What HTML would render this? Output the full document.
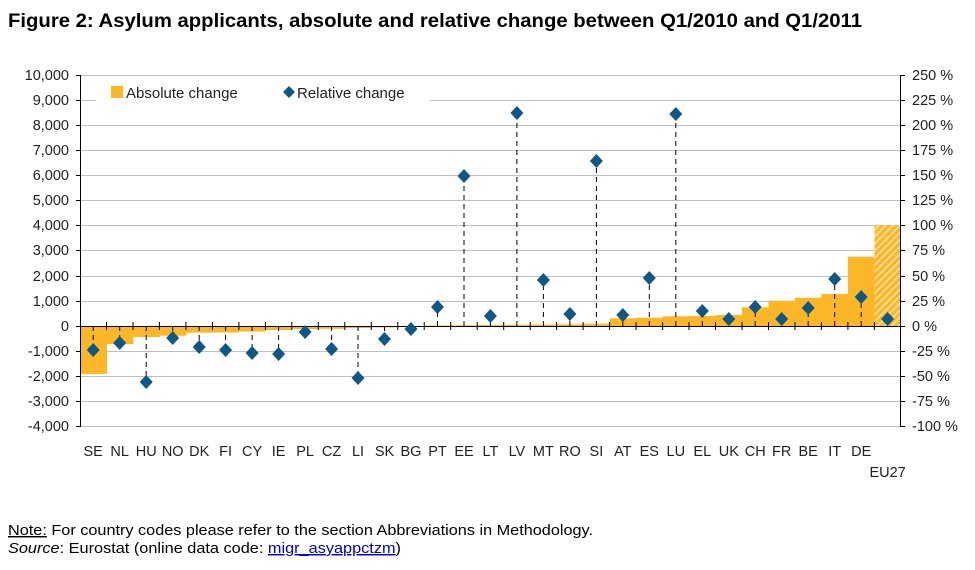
<!DOCTYPE html>
<html><head><meta charset="utf-8"><style>
body{margin:0;background:#fff;}
svg{display:block;font-family:"Liberation Sans",Arial,sans-serif;}
</style></head><body>
<svg width="975" height="570" viewBox="0 0 975 570" xmlns="http://www.w3.org/2000/svg">
<defs>
<pattern id="hatch" width="5" height="5" patternUnits="userSpaceOnUse" patternTransform="rotate(45)">
<rect width="5" height="5" fill="#fbb728"/><rect width="1.6" height="5" fill="#fde3a6"/>
</pattern>
</defs>
<text x="8" y="27" font-size="19" font-weight="bold" fill="#000" textLength="854" lengthAdjust="spacingAndGlyphs">Figure 2: Asylum applicants, absolute and relative change between Q1/2010 and Q1/2011</text>
<g stroke="#bfbfbf" stroke-width="1">
<line x1="80" x2="901" y1="75.5" y2="75.5"/><line x1="80" x2="901" y1="100.5" y2="100.5"/><line x1="80" x2="901" y1="125.5" y2="125.5"/><line x1="80" x2="901" y1="150.5" y2="150.5"/><line x1="80" x2="901" y1="175.5" y2="175.5"/><line x1="80" x2="901" y1="200.5" y2="200.5"/><line x1="80" x2="901" y1="225.5" y2="225.5"/><line x1="80" x2="901" y1="250.5" y2="250.5"/><line x1="80" x2="901" y1="276.5" y2="276.5"/><line x1="80" x2="901" y1="301.5" y2="301.5"/><line x1="80" x2="901" y1="351.5" y2="351.5"/><line x1="80" x2="901" y1="376.5" y2="376.5"/><line x1="80" x2="901" y1="401.5" y2="401.5"/><line x1="80" x2="901" y1="426.5" y2="426.5"/>
</g>
<rect x="96" y="84" width="334" height="18" fill="#fff"/>
<g fill="#fbb728">
<rect x="80" y="326" width="27" height="48"/><rect x="106.5" y="326" width="27" height="18"/><rect x="133" y="326" width="27" height="11"/><rect x="159.4" y="326" width="27" height="9.7"/><rect x="185.9" y="326" width="27" height="6.7"/><rect x="212.4" y="326" width="27" height="6.5"/><rect x="238.9" y="326" width="27" height="5.5"/><rect x="265.4" y="326" width="27" height="4"/><rect x="291.8" y="326" width="27" height="3"/><rect x="318.3" y="326" width="27" height="2.8"/><rect x="344.8" y="326" width="27" height="2"/><rect x="371.3" y="326" width="27" height="1.5"/><rect x="397.8" y="326" width="27" height="1"/>
<rect x="424.2" y="325.5" width="27" height="1"/><rect x="450.7" y="325.3" width="27" height="1"/><rect x="477.2" y="325" width="27" height="1"/><rect x="503.7" y="324.8" width="27" height="1.5"/><rect x="530.2" y="324.6" width="27" height="1.5"/><rect x="556.6" y="324.3" width="27" height="2"/><rect x="583.1" y="323.7" width="27" height="2.5"/><rect x="609.6" y="318.3" width="27" height="8"/><rect x="636.1" y="317.7" width="27" height="8.5"/><rect x="662.6" y="316.3" width="27" height="10"/><rect x="689" y="316" width="27" height="10"/><rect x="715.5" y="315" width="27" height="11"/><rect x="742" y="307.3" width="27" height="19"/><rect x="768.5" y="300.7" width="27" height="25.5"/><rect x="795" y="297.7" width="27" height="28.5"/><rect x="821.4" y="294" width="27" height="32"/><rect x="847.9" y="256.7" width="27" height="69.5"/>
</g>
<rect x="874.4" y="225" width="26.6" height="101" fill="url(#hatch)"/>
<g stroke="#000" stroke-width="1" stroke-dasharray="5,4" fill="none">
<line x1="93.2" y1="326" x2="93.2" y2="350"/><line x1="119.7" y1="326" x2="119.7" y2="343"/><line x1="146.2" y1="326" x2="146.2" y2="382"/><line x1="172.7" y1="326" x2="172.7" y2="338"/><line x1="199.2" y1="326" x2="199.2" y2="347"/><line x1="225.6" y1="326" x2="225.6" y2="350"/><line x1="252.1" y1="326" x2="252.1" y2="353"/><line x1="278.6" y1="326" x2="278.6" y2="354"/><line x1="331.6" y1="326" x2="331.6" y2="349"/><line x1="358" y1="326" x2="358" y2="378"/><line x1="384.5" y1="326" x2="384.5" y2="339"/>
<line x1="437.5" y1="326" x2="437.5" y2="307"/><line x1="464" y1="326" x2="464" y2="176"/><line x1="490.4" y1="326" x2="490.4" y2="316"/><line x1="516.9" y1="326" x2="516.9" y2="113"/><line x1="543.4" y1="326" x2="543.4" y2="280"/><line x1="569.9" y1="326" x2="569.9" y2="314"/><line x1="596.4" y1="326" x2="596.4" y2="161"/><line x1="622.8" y1="326" x2="622.8" y2="315"/><line x1="649.3" y1="326" x2="649.3" y2="278"/><line x1="675.8" y1="326" x2="675.8" y2="114"/><line x1="702.3" y1="326" x2="702.3" y2="311"/><line x1="755.2" y1="326" x2="755.2" y2="307"/><line x1="808.2" y1="326" x2="808.2" y2="308"/><line x1="834.7" y1="326" x2="834.7" y2="279"/><line x1="861.2" y1="326" x2="861.2" y2="297"/>
</g>
<g stroke="#000" stroke-width="1">
<line x1="80.5" y1="75" x2="80.5" y2="427"/>
<line x1="80" y1="326.5" x2="901" y2="326.5"/>
<line x1="900.5" y1="75" x2="900.5" y2="427"/>
<path d="M76 75.5h4M76 100.5h4M76 125.5h4M76 150.5h4M76 175.5h4M76 200.5h4M76 225.5h4M76 250.5h4M76 276.5h4M76 301.5h4M76 326.5h4M76 351.5h4M76 376.5h4M76 401.5h4M76 426.5h4"/>
<path d="M901 75.5h4M901 100.5h4M901 125.5h4M901 150.5h4M901 175.5h4M901 200.5h4M901 225.5h4M901 250.5h4M901 276.5h4M901 301.5h4M901 326.5h4M901 351.5h4M901 376.5h4M901 401.5h4M901 426.5h4"/>
<path d="M106.5 322v8M133 322v8M159.4 322v8M185.9 322v8M212.4 322v8M238.9 322v8M265.4 322v8M291.8 322v8M318.3 322v8M344.8 322v8M371.3 322v8M397.8 322v8M424.2 322v8M450.7 322v8M477.2 322v8M503.7 322v8M530.2 322v8M556.6 322v8M583.1 322v8M609.6 322v8M636.1 322v8M662.6 322v8M689 322v8M715.5 322v8M742 322v8M768.5 322v8M795 322v8M821.4 322v8M847.9 322v8M874.4 322v8"/>
</g>
<g fill="#0f5785">
<path d="M93.2 343l6.5 7-6.5 7-6.5-7z"/><path d="M119.7 336l6.5 7-6.5 7-6.5-7z"/><path d="M146.2 375l6.5 7-6.5 7-6.5-7z"/><path d="M172.7 331l6.5 7-6.5 7-6.5-7z"/><path d="M199.2 340l6.5 7-6.5 7-6.5-7z"/><path d="M225.6 343l6.5 7-6.5 7-6.5-7z"/><path d="M252.1 346l6.5 7-6.5 7-6.5-7z"/><path d="M278.6 347l6.5 7-6.5 7-6.5-7z"/><path d="M305.1 325l6.5 7-6.5 7-6.5-7z"/><path d="M331.6 342l6.5 7-6.5 7-6.5-7z"/><path d="M358 371l6.5 7-6.5 7-6.5-7z"/><path d="M384.5 332l6.5 7-6.5 7-6.5-7z"/><path d="M411 322l6.5 7-6.5 7-6.5-7z"/>
<path d="M437.5 300l6.5 7-6.5 7-6.5-7z"/><path d="M464 169l6.5 7-6.5 7-6.5-7z"/><path d="M490.4 309l6.5 7-6.5 7-6.5-7z"/><path d="M516.9 106l6.5 7-6.5 7-6.5-7z"/><path d="M543.4 273l6.5 7-6.5 7-6.5-7z"/><path d="M569.9 307l6.5 7-6.5 7-6.5-7z"/><path d="M596.4 154l6.5 7-6.5 7-6.5-7z"/><path d="M622.8 308l6.5 7-6.5 7-6.5-7z"/><path d="M649.3 271l6.5 7-6.5 7-6.5-7z"/><path d="M675.8 107l6.5 7-6.5 7-6.5-7z"/><path d="M702.3 304l6.5 7-6.5 7-6.5-7z"/><path d="M728.8 312l6.5 7-6.5 7-6.5-7z"/><path d="M755.2 300l6.5 7-6.5 7-6.5-7z"/><path d="M781.7 312l6.5 7-6.5 7-6.5-7z"/><path d="M808.2 301l6.5 7-6.5 7-6.5-7z"/><path d="M834.7 272l6.5 7-6.5 7-6.5-7z"/><path d="M861.2 290l6.5 7-6.5 7-6.5-7z"/><path d="M887.6 312l6.5 7-6.5 7-6.5-7z"/>
</g>
<g font-size="14.5" fill="#222" text-anchor="end">
<text x="69" y="80">10,000</text><text x="69" y="105">9,000</text><text x="69" y="130">8,000</text><text x="69" y="155">7,000</text><text x="69" y="180">6,000</text><text x="69" y="205">5,000</text><text x="69" y="230">4,000</text><text x="69" y="255">3,000</text><text x="69" y="281">2,000</text><text x="69" y="306">1,000</text><text x="69" y="331">0</text><text x="69" y="356">-1,000</text><text x="69" y="381">-2,000</text><text x="69" y="406">-3,000</text><text x="69" y="431">-4,000</text>
</g>
<g font-size="14.5" fill="#222">
<text x="912" y="80">250 %</text><text x="912" y="105">225 %</text><text x="912" y="130">200 %</text><text x="912" y="155">175 %</text><text x="912" y="180">150 %</text><text x="912" y="205">125 %</text><text x="912" y="230">100 %</text><text x="912" y="255">75 %</text><text x="912" y="281">50 %</text><text x="912" y="306">25 %</text><text x="912" y="331">0 %</text><text x="912" y="356">-25 %</text><text x="912" y="381">-50 %</text><text x="912" y="406">-75 %</text><text x="912" y="431">-100 %</text>
</g>
<g font-size="14.5" fill="#222" text-anchor="middle">
<text x="93.2" y="456">SE</text><text x="119.7" y="456">NL</text><text x="146.2" y="456">HU</text><text x="172.7" y="456">NO</text><text x="199.2" y="456">DK</text><text x="225.6" y="456">FI</text><text x="252.1" y="456">CY</text><text x="278.6" y="456">IE</text><text x="305.1" y="456">PL</text><text x="331.6" y="456">CZ</text><text x="358" y="456">LI</text><text x="384.5" y="456">SK</text><text x="411" y="456">BG</text><text x="437.5" y="456">PT</text><text x="464" y="456">EE</text><text x="490.4" y="456">LT</text><text x="516.9" y="456">LV</text><text x="543.4" y="456">MT</text><text x="569.9" y="456">RO</text><text x="596.4" y="456">SI</text><text x="622.8" y="456">AT</text><text x="649.3" y="456">ES</text><text x="675.8" y="456">LU</text><text x="702.3" y="456">EL</text><text x="728.8" y="456">UK</text><text x="755.2" y="456">CH</text><text x="781.7" y="456">FR</text><text x="808.2" y="456">BE</text><text x="834.7" y="456">IT</text><text x="861.2" y="456">DE</text><text x="887.6" y="477">EU27</text>
</g>
<rect x="111" y="86" width="12" height="12" fill="#fbb728"/>
<text x="126" y="98" font-size="15" fill="#222">Absolute change</text>
<path d="M289 86l6 6-6 6-6-6z" fill="#0f5785"/>
<text x="297" y="98" font-size="15" fill="#222">Relative change</text>
<text x="8" y="535" font-size="14.5" fill="#000" textLength="585" lengthAdjust="spacingAndGlyphs"><tspan text-decoration="underline">Note:</tspan> For country codes please refer to the section Abbreviations in Methodology.</text>
<text x="8" y="553" font-size="14.5" fill="#000" textLength="393" lengthAdjust="spacingAndGlyphs"><tspan font-style="italic">Source</tspan>: Eurostat (online data code: <tspan fill="#0000cc" text-decoration="underline">migr_asyappctzm</tspan>)</text>
</svg>
</body></html>
